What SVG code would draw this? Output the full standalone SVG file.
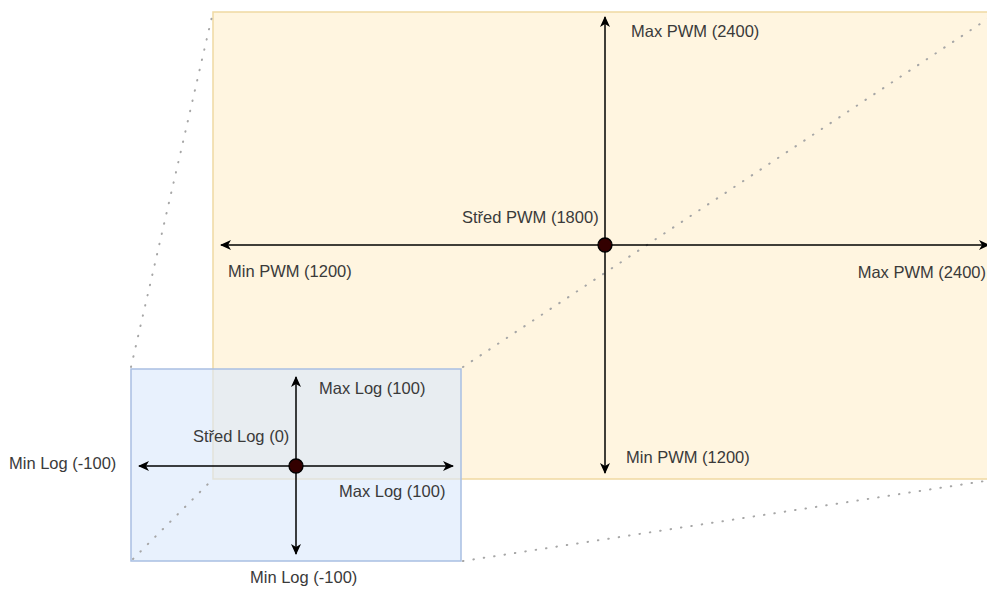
<svg xmlns="http://www.w3.org/2000/svg" width="987" height="592" viewBox="0 0 987 592">
  <style>
    .lbl { font-family: "Liberation Sans", Arial, sans-serif; font-size: 16.5px; fill: #3a3a3a; }
    .axis { stroke: #000000; stroke-width: 1.5; fill: none; marker-start: url(#arr); marker-end: url(#arr); }
    .proj { stroke: #a6a6a6; stroke-width: 2; stroke-linecap: round; stroke-dasharray: 0.5 10; fill: none; }
    .origin { fill: #330000; stroke: #000000; stroke-width: 1.3; }
  </style>
  <defs>
    <marker id="arr" viewBox="0 0 11 10" refX="10" refY="5" markerWidth="11" markerHeight="10" markerUnits="userSpaceOnUse" orient="auto-start-reverse">
      <path d="M0,0 L11,5 L0,10 L3,5 Z" fill="#000000"/>
    </marker>
  </defs>

  <!-- PWM range (large frame) -->
  <g id="pwm-frame">
    <rect x="213" y="12" width="785" height="467" fill="#fff5e0" stroke="#f0d9a2" stroke-width="1.5"/>
  </g>

  <!-- Log range (small frame, translucent) -->
  <g id="log-frame">
    <rect x="131" y="369" width="330" height="192" fill="#dae8fc" fill-opacity="0.62" stroke="#a9bfe2" stroke-width="1.5"/>
  </g>

  <!-- projection lines between the two frames -->
  <g id="connectors">
    <line class="proj" x1="131" y1="367" x2="213" y2="12"/>
    <line class="proj" x1="133" y1="559" x2="213" y2="479"/>
    <line class="proj" x1="463" y1="367" x2="998" y2="12"/>
    <line class="proj" x1="463" y1="561" x2="998" y2="479"/>

    <!-- PWM axes -->
    <line class="axis" x1="221" y1="245" x2="989" y2="245"/>
    <line class="axis" x1="605" y1="473" x2="605" y2="17"/>

    <!-- Log axes -->
    <line class="axis" x1="139" y1="466" x2="453" y2="466"/>
    <line class="axis" x1="296" y1="554" x2="296" y2="377"/>
  </g>

  <g id="pwm-center">
    <circle class="origin" cx="605" cy="245" r="7"/>
  </g>
  <g id="log-center">
    <circle class="origin" cx="296" cy="466" r="7"/>
  </g>

  <!-- PWM labels -->
  <g id="pwm-labels">
    <text class="lbl" x="631" y="37">Max PWM (2400)</text>
    <text class="lbl" x="462" y="223">Střed PWM (1800)</text>
    <text class="lbl" x="228" y="277">Min PWM (1200)</text>
    <text class="lbl" x="986" y="278" text-anchor="end">Max PWM (2400)</text>
    <text class="lbl" x="626" y="463">Min PWM (1200)</text>
  </g>

  <!-- Log labels -->
  <g id="log-labels">
    <text class="lbl" x="319" y="394">Max Log (100)</text>
    <text class="lbl" x="193" y="442">Střed Log (0)</text>
    <text class="lbl" x="339" y="497">Max Log (100)</text>
    <text class="lbl" x="9" y="469">Min Log (-100)</text>
    <text class="lbl" x="250" y="583">Min Log (-100)</text>
  </g>
</svg>
